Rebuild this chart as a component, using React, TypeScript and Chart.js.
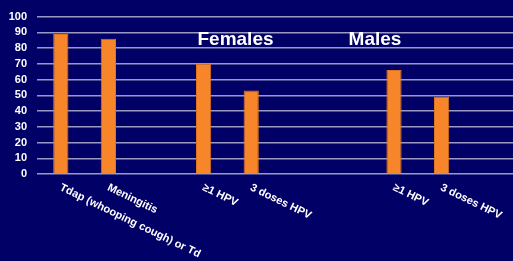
import React, { useEffect, useRef } from "react";
import { Chart, registerables } from "chart.js";

Chart.register(...registerables);

const categories = [
  "Tdap (whooping cough) or Td",
  "Meningitis",
  "",
  "≥1 HPV",
  "3 doses HPV",
  "",
  "",
  "≥1 HPV",
  "3 doses HPV",
  "",
];
const values: (number | null)[] = [89, 86, null, 70, 53, null, null, 66, 49, null];
const yTicks = [0, 10, 20, 30, 40, 50, 60, 70, 80, 90, 100];
const groupLabels = [
  { text: "Females", at: 3.67, value: 85.5 },
  { text: "Males", at: 6.6, value: 85.5 },
];

const BG = "#000066";

const labelPlugin = {
  id: "customLabels",
  afterDraw(chart: any) {
    const ctx = chart.ctx;
    const x = chart.scales.x;
    const y = chart.scales.y;
    const step = x.getPixelForTick(1) - x.getPixelForTick(0);
    ctx.save();
    ctx.fillStyle = "#ffffff";
    ctx.font = "bold 11px 'Liberation Sans', Arial, sans-serif";
    ctx.textAlign = "left";
    ctx.textBaseline = "top";
    categories.forEach((c, i) => {
      if (!c) return;
      const px = x.getPixelForTick(i);
      ctx.save();
      ctx.translate(px + 2, chart.chartArea.bottom + 8);
      ctx.rotate((26 * Math.PI) / 180);
      ctx.fillText(c, 0, 0);
      ctx.restore();
    });
    ctx.font = "bold 19px 'Liberation Sans', Arial, sans-serif";
    ctx.textAlign = "center";
    ctx.textBaseline = "middle";
    groupLabels.forEach((g) => {
      const base = Math.floor(g.at);
      const px = x.getPixelForTick(base) + (g.at - base) * step;
      ctx.fillText(g.text, px, y.getPixelForValue(g.value));
    });
    ctx.restore();
  },
};

export default function App() {
  const ref = useRef<HTMLCanvasElement>(null);
  useEffect(() => {
    if (!ref.current) return;
    const chart = new Chart(ref.current, {
      type: "bar",
      data: {
        labels: categories,
        datasets: [
          {
            data: values,
            backgroundColor: "#F7862A",
            borderColor: "#E0741C",
            borderWidth: 1,
            categoryPercentage: 1,
            barPercentage: 0.32,
          },
        ],
      },
      options: {
        responsive: false,
        animation: false,
        layout: { padding: { top: 7.7, bottom: 79, left: 0, right: 0 } },
        plugins: { legend: { display: false }, tooltip: { enabled: false } },
        scales: {
          x: {
            grid: { display: false },
            border: { display: false },
            ticks: { display: false },
          },
          y: {
            min: 0,
            max: 100,
            afterFit: (s: any) => {
              s.width = 37;
            },
            afterBuildTicks: (s: any) => {
              s.ticks = yTicks.map((v) => ({ value: v }));
            },
            grid: {
              color: "#9a9ac4",
              lineWidth: 1.5,
              drawTicks: false,
            },
            border: { display: false },
            ticks: {
              autoSkip: false,
              color: "#ffffff",
              padding: 10,
              font: { family: "'Liberation Sans', Arial, sans-serif", size: 11, weight: "bold" },
            },
          },
        },
      },
      plugins: [labelPlugin],
    });
    return () => chart.destroy();
  }, []);
  return (
    <div style={{ position: "fixed", left: 0, top: 0, width: 513, height: 261, background: BG }}>
      <canvas ref={ref} width={513} height={261} style={{ display: "block" }} />
    </div>
  );
}
